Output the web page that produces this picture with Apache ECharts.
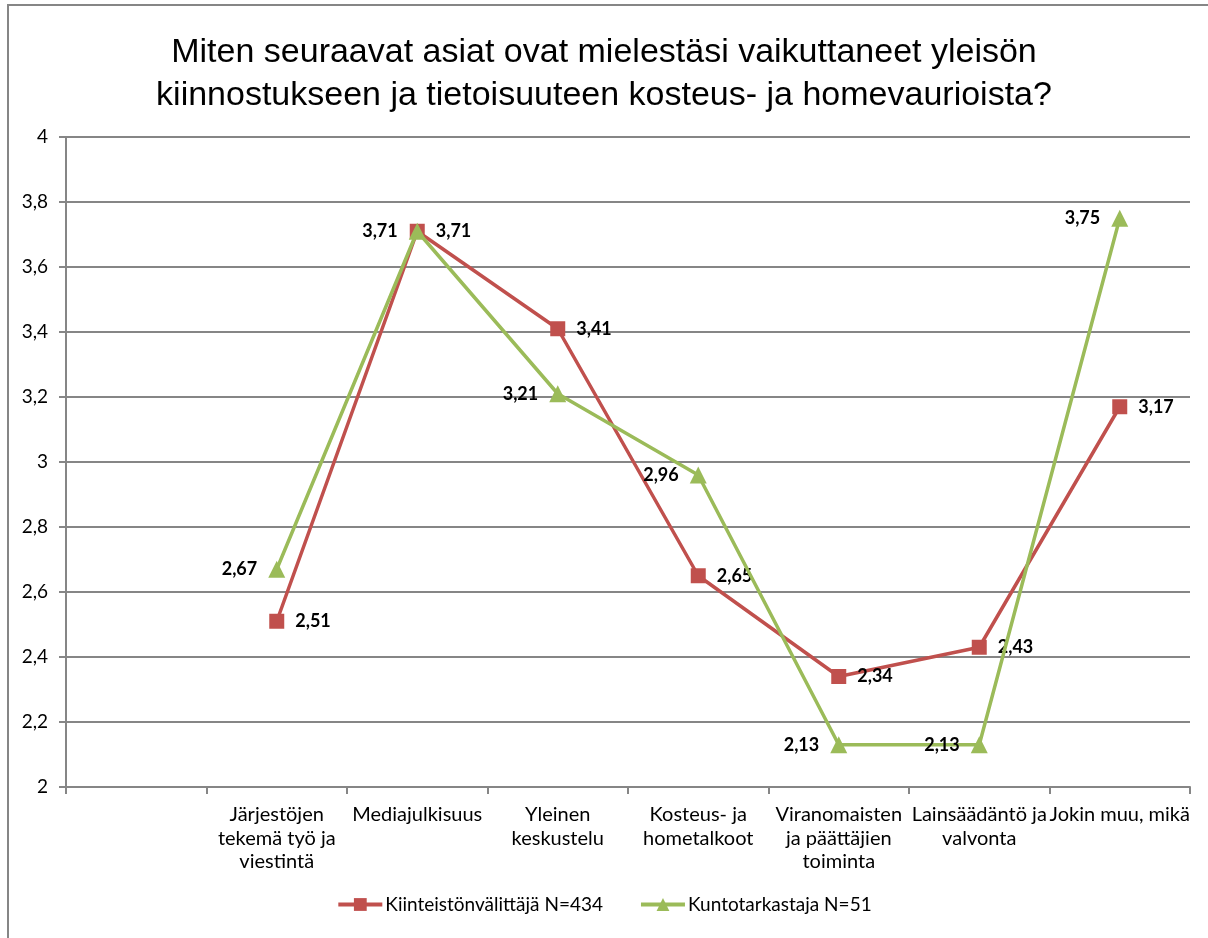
<!DOCTYPE html>
<html>
<head>
<meta charset="utf-8">
<script src="https://cdn.jsdelivr.net/npm/echarts@6/dist/echarts.min.js"></script>
<style>
  html, body { margin: 0; padding: 0; background: #fff; }
  #chart { width: 1208px; height: 938px; }
</style>
</head>
<body>
<div id="chart"></div>
<script>
// Category labels (the first slot is intentionally empty)
const categories = [
  '',
  'Järjestöjen\ntekemä työ ja\nviestintä',
  'Mediajulkisuus',
  'Yleinen\nkeskustelu',
  'Kosteus- ja\nhometalkoot',
  'Viranomaisten\nja päättäjien\ntoiminta',
  'Lainsäädäntö ja\nvalvonta',
  'Jokin muu, mikä'
];

const seriesNames = ['Kiinteistönvälittäjä N=434', 'Kuntotarkastaja N=51'];

// Mean scores per category
const kiinteistonvalittaja = ['-', 2.51, 3.71, 3.41, 2.65, 2.34, 2.43, 3.17];
const kuntotarkastaja      = ['-', 2.67, 3.71, 3.21, 2.96, 2.13, 2.13, 3.75];

const titleLines = [
  'Miten seuraavat asiat ovat mielestäsi vaikuttaneet yleisön',
  'kiinnostukseen ja tietoisuuteen kosteus- ja homevaurioista?'
];

const RED = '#C0504D';
const GREEN = '#9BBB59';
const GRAY = '#868686';
const FONT = 'Lato, "Open Sans", sans-serif';

const fmt = v => Number(v).toFixed(2).replace('.', ',');

const chart = echarts.init(document.getElementById('chart'));
chart.setOption({
  backgroundColor: '#fff',
  animation: false,
  title: {
    text: titleLines.join('\n'),
    left: 'center',
    top: 26,
    textStyle: {
      fontFamily: '"Liberation Sans", Arial, sans-serif',
      fontSize: 34,
      fontWeight: 'normal',
      color: '#000',
      lineHeight: 43
    }
  },
  graphic: [{
    type: 'rect',
    shape: { x: 8, y: 5, width: 1260, height: 1000 },
    style: { fill: 'none', stroke: GRAY, lineWidth: 2 },
    silent: true
  }],
  legend: {
    bottom: 19,
    left: 'center',
    itemWidth: 44,
    itemHeight: 16,
    itemGap: 36,
    lineStyle: { width: 4 },
    textStyle: { fontFamily: FONT, fontSize: 19, color: '#000', padding: [0, 0, 0, -2] },
    data: seriesNames
  },
  grid: { left: 66, right: 18, top: 137, bottom: 151 },
  xAxis: {
    type: 'category',
    data: categories,
    boundaryGap: true,
    axisLine: { lineStyle: { color: GRAY, width: 2 } },
    axisTick: { show: true, interval: 0, length: 7, lineStyle: { color: GRAY, width: 2 } },
    axisLabel: {
      interval: 0,
      margin: 16,
      fontFamily: FONT,
      fontSize: 20,
      color: '#000',
      lineHeight: 23.5,
      align: 'center'
    }
  },
  yAxis: {
    type: 'value',
    min: 2,
    max: 4,
    interval: 0.2,
    axisLine: { show: true, lineStyle: { color: GRAY, width: 2 } },
    axisTick: { show: true, length: 7, lineStyle: { color: GRAY, width: 2 } },
    splitLine: { lineStyle: { color: GRAY, width: 2 } },
    axisLabel: {
      margin: 18,
      fontFamily: FONT,
      fontSize: 19,
      color: '#000',
      formatter: v => String(Math.round(v * 10) / 10).replace('.', ',')
    }
  },
  series: [
    {
      name: seriesNames[0],
      type: 'line',
      data: kiinteistonvalittaja,
      symbol: 'rect',
      symbolSize: 15,
      itemStyle: { color: RED },
      lineStyle: { color: RED, width: 3.5 },
      label: {
        show: true,
        position: 'right',
        distance: 11,
        fontFamily: FONT,
        fontSize: 18,
        fontWeight: 'bold',
        color: '#000',
        formatter: p => fmt(p.value)
      },
      z: 2
    },
    {
      name: seriesNames[1],
      type: 'line',
      data: kuntotarkastaja,
      symbol: 'triangle',
      symbolSize: 17,
      itemStyle: { color: GREEN },
      lineStyle: { color: GREEN, width: 3.5 },
      label: {
        show: true,
        position: 'left',
        distance: 11,
        fontFamily: FONT,
        fontSize: 18,
        fontWeight: 'bold',
        color: '#000',
        formatter: p => fmt(p.value)
      },
      z: 3
    }
  ]
});
</script>
</body>
</html>
